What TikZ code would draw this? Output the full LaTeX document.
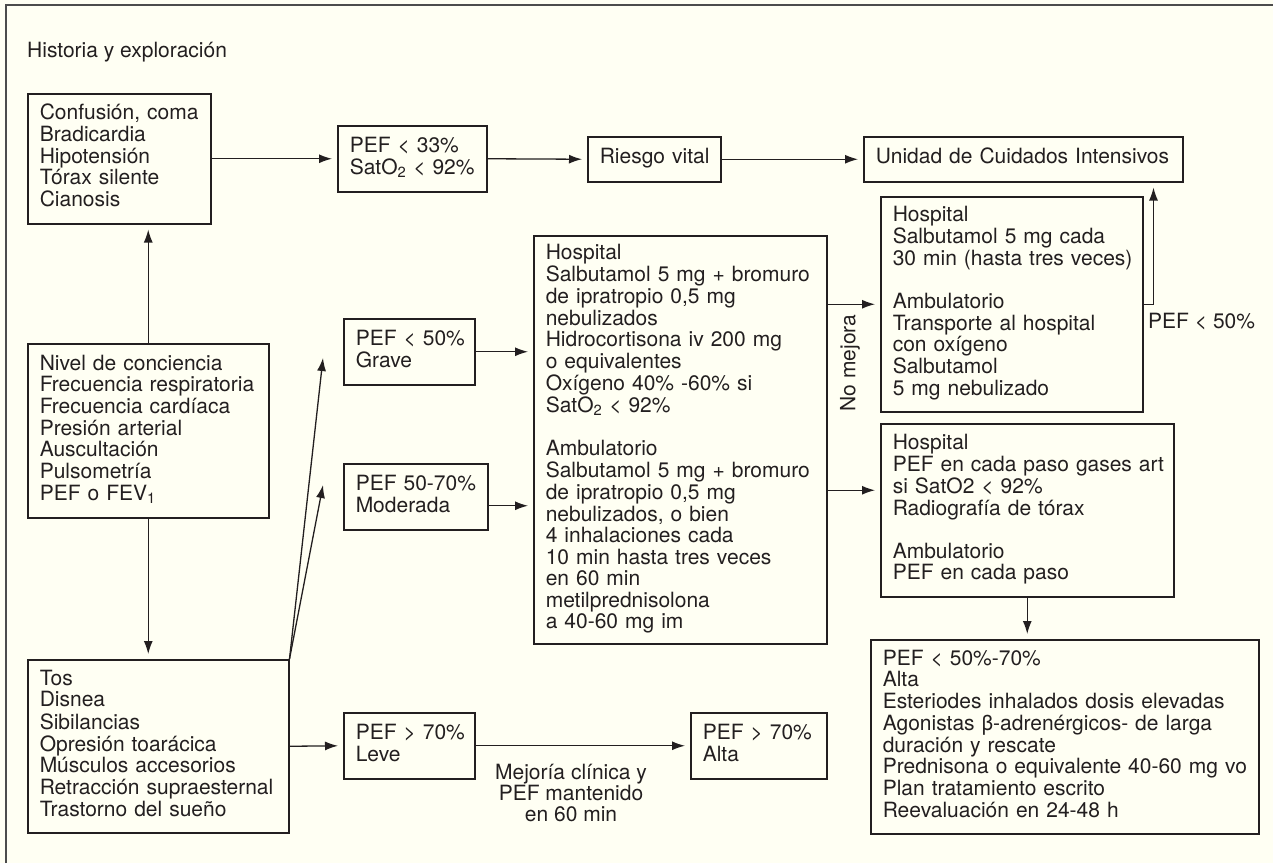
\documentclass[tikz,border=0pt]{standalone}
\usepackage{fontspec}
\setmainfont{TeX Gyre Heros}
\usetikzlibrary{arrows.meta}
\setlength{\parindent}{0pt}
\newcommand{\lineas}[1]{\begin{tabular}{@{}l@{}}#1\end{tabular}}
\definecolor{paper}{RGB}{255,255,243}
\definecolor{ink}{RGB}{35,31,32}
\tikzset{
	caja/.style={draw=ink, text=ink, line width=1.5pt, anchor=north west, inner xsep=12pt, font=\fontsize{21}{21.3}\selectfont},
	flecha/.style={draw=ink, line width=1.3pt, -{Latex[length=13pt,width=9pt]}, shorten >=5pt},
	rotulo/.style={inner sep=0pt, text=ink, font=\fontsize{21}{21.3}\selectfont}
}
\begin{document}
\begin{tikzpicture}[x=1pt, y=-1pt]
	\fill[paper] (0,0) rectangle (1273,863);
	\useasboundingbox (0,0) rectangle (1273,863);
	\draw[gray!60!black, line width=2pt] (6,863) -- (6,5) -- (1273,5);
	\node[rotulo, anchor=base west] (titulo) at (27,57) {Historia y exploración};
	\node[caja, text width=159pt, minimum height=130pt] (signos) at (27,93) {\lineas{Confusión, coma\\Bradicardia\\Hipotensión\\Tórax silente\\Cianosis}};
	\node[caja, text width=125pt, minimum height=66pt] (pef33) at (337,125) {\lineas{PEF < 33\%\\SatO\textsubscript{2} < 92\%}};
	\node[caja, text width=109pt, minimum height=45pt] (riesgo) at (587,136) {\lineas{Riesgo vital}};
	\node[caja, text width=295pt, minimum height=45pt] (uci) at (863,136) {\lineas{Unidad de Cuidados Intensivos}};
	\node[caja, text width=217pt, minimum height=174pt] (nivel) at (27,343) {\lineas{Nivel de conciencia\\Frecuencia respiratoria\\Frecuencia cardíaca\\Presión arterial\\Auscultación\\Pulsometría\\PEF o FEV\textsubscript{1}}};
	\node[caja, text width=107pt, minimum height=66pt] (grave) at (343,318) {\lineas{PEF < 50\%\\Grave}};
	\node[caja, text width=120pt, minimum height=66pt] (moderada) at (343,463) {\lineas{PEF 50-70\%\\Moderada}};
	\node[caja, text width=269pt, minimum height=408pt] (trat) at (533,235) {\lineas{Hospital\\Salbutamol 5 mg + bromuro\\de ipratropio 0,5 mg\\nebulizados\\Hidrocortisona iv 200 mg\\o equivalentes\\Oxígeno 40\% -60\% si\\SatO\textsubscript{2} < 92\%\\[21.3pt]Ambulatorio\\Salbutamol 5 mg + bromuro\\de ipratropio 0,5 mg\\nebulizados, o bien\\4 inhalaciones cada\\10 min hasta tres veces\\en 60 min\\metilprednisolona\\a 40-60 mg im}};
	\node[caja, text width=238pt, minimum height=215pt] (rescate) at (880,196) {\lineas{Hospital\\Salbutamol 5 mg cada\\30 min (hasta tres veces)\\[21.3pt]Ambulatorio\\Transporte al hospital\\con oxígeno\\Salbutamol\\5 mg nebulizado}};
	\node[caja, text width=269pt, minimum height=173pt] (control) at (880,423) {\lineas{Hospital\\PEF en cada paso gases art\\si SatO2 < 92\%\\Radiografía de tórax\\[21.3pt]Ambulatorio\\PEF en cada paso}};
	\node[caja, text width=364pt, minimum height=194pt] (alta) at (870,639) {\lineas{PEF < 50\%-70\%\\Alta\\Esteriodes inhalados dosis elevadas\\Agonistas β-adrenérgicos- de larga\\duración y rescate\\Prednisona o equivalente 40-60 mg vo\\Plan tratamiento escrito\\Reevaluación en 24-48 h}};
	\node[caja, text width=237pt, minimum height=173pt] (sintomas) at (27,659) {\lineas{Tos\\Disnea\\Sibilancias\\Opresión toarácica\\Músculos accesorios\\Retracción supraesternal\\Trastorno del sueño}};
	\node[caja, text width=107pt, minimum height=66pt] (leve) at (343,712) {\lineas{PEF > 70\%\\Leve}};
	\node[caja, text width=112pt, minimum height=66pt] (altaleve) at (690,712) {\lineas{PEF > 70\%\\Alta}};
	\node[rotulo, anchor=west] (pef50) at (1148,322) {PEF < 50\%};
	\node[rotulo, rotate=90] (nomejora) at (850,363) {No mejora};
	\node[rotulo, align=center] (mejoria) at (571,793) {Mejoría clínica y\\PEF mantenido\\en 60 min};
	\coordinate (haciagrave) at (323,358);
	\coordinate (haciamod) at (323,485);
	\coordinate (codo) at ([xshift=10pt]rescate.east);
	\draw[flecha] (signos.east) -- (pef33.west);
	\draw[flecha] (pef33.east) -- (riesgo.west);
	\draw[flecha] (riesgo.east) -- (uci.west);
	\draw[flecha] (nivel.north) -- (nivel.north |- signos.south);
	\draw[flecha] (nivel.south) -- (nivel.south |- sintomas.north);
	\draw[flecha, shorten >=0pt] (sintomas.north east) -- (haciagrave);
	\draw[flecha, shorten >=0pt] (sintomas.north east) -- (haciamod);
	\draw[flecha] (grave.east) -- (grave.east -| trat.west);
	\draw[flecha] ([yshift=-9pt]moderada.east) -- ([yshift=-9pt]moderada.east -| trat.west);
	\draw[flecha] (rescate.west -| trat.east) -- (rescate.west);
	\draw[flecha] ([yshift=20pt]control.west -| trat.east) -- ([yshift=20pt]control.west);
	\draw[flecha] (rescate.east) -- (codo) -- (codo |- uci.south);
	\draw[flecha] (control.south) -- (control.south |- alta.north);
	\draw[flecha] (sintomas.east) -- (leve.west);
	\draw[flecha] (leve.east) -- (altaleve.west);
\end{tikzpicture}
\end{document}
